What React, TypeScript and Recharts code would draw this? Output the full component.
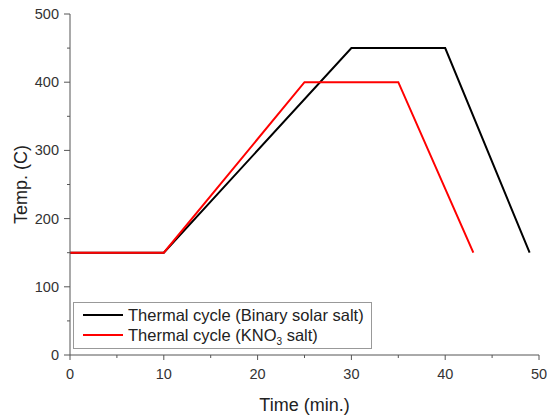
import { LineChart, Line, XAxis, YAxis } from 'recharts';

const binaryTime = [0, 10, 30, 40, 49];
const binaryTemp = [150, 150, 450, 450, 150];
const kno3Time = [0, 10, 25, 35, 43];
const kno3Temp = [150, 150, 400, 400, 150];

const xTicks = [0, 5, 10, 15, 20, 25, 30, 35, 40, 45, 50];
const yTicks = [0, 50, 100, 150, 200, 250, 300, 350, 400, 450, 500];

const binaryData = binaryTime.map((t, i) => ({ t, temp: binaryTemp[i] }));
const kno3Data = kno3Time.map((t, i) => ({ t, temp: kno3Temp[i] }));

const axisColor = '#555';
const font = 'Arial, "Liberation Sans", sans-serif';

const XTick = (props: any) => {
  const { x, y, payload } = props;
  const major = payload.value % 10 === 0;
  return (
    <g>
      <line x1={x} x2={x} y1={y} y2={y + (major ? 5 : 3)} stroke={axisColor} strokeWidth={1} />
      {major && (
        <text x={x} y={y + 24} textAnchor="middle" fontSize={14.5} fill="#333" fontFamily={font}>
          {payload.value}
        </text>
      )}
    </g>
  );
};

const YTick = (props: any) => {
  const { x, y, payload } = props;
  const major = payload.value % 100 === 0;
  return (
    <g>
      <line x1={x} x2={x - (major ? 6 : 3)} y1={y} y2={y} stroke={axisColor} strokeWidth={1} />
      {major && (
        <text x={x - 11} y={y + 5} textAnchor="end" fontSize={14.5} fill="#333" fontFamily={font}>
          {payload.value}
        </text>
      )}
    </g>
  );
};

const LegendBox = () => (
  <div
    style={{
      position: 'absolute',
      left: 73,
      top: 302,
      border: '1px solid #999',
      width: 299,
      height: 47,
      boxSizing: 'border-box',
      padding: '2px 0 0 9px',
      fontFamily: font,
      fontSize: 16.5,
      lineHeight: '20px',
      color: '#222',
      background: '#fff',
    }}
  >
    <div style={{ display: 'flex', alignItems: 'center', height: 20 }}>
      <span style={{ display: 'inline-block', width: 40, height: 2, background: '#000', marginRight: 5 }} />
      Thermal cycle (Binary solar salt)
    </div>
    <div style={{ display: 'flex', alignItems: 'center', height: 20 }}>
      <span style={{ display: 'inline-block', width: 40, height: 2, background: '#ff0000', marginRight: 5 }} />
      <span>
        Thermal cycle (KNO<sub style={{ fontSize: 10, lineHeight: 0 }}>3</sub> salt)
      </span>
    </div>
  </div>
);

const App = () => {
  return (
    <div style={{ position: 'absolute', left: 0, top: 0, width: 547, height: 416, background: '#fff' }}>
      <LineChart width={547} height={416} margin={{ top: 14, right: 8, left: 0, bottom: 0 }}>
        <XAxis
          type="number"
          dataKey="t"
          domain={[0, 50]}
          ticks={xTicks}
          interval={0}
          height={61}
          tickSize={0}
          tickMargin={0}
          tickLine={false}
          tick={<XTick />}
          axisLine={{ stroke: axisColor, strokeWidth: 1 }}
          label={{ value: 'Time (min.)', position: 'insideBottom', offset: 5, fontSize: 18, fill: '#222', fontFamily: font }}
          allowDuplicatedCategory={false}
        />
        <YAxis
          type="number"
          domain={[0, 500]}
          ticks={yTicks}
          interval={0}
          width={70}
          tickSize={0}
          tickMargin={0}
          tickLine={false}
          tick={<YTick />}
          axisLine={{ stroke: axisColor, strokeWidth: 1 }}
          label={{
            value: 'Temp. (C)',
            angle: -90,
            position: 'insideLeft',
            offset: 21,
            style: { textAnchor: 'middle' },
            fontSize: 18,
            fill: '#222',
            fontFamily: font,
          }}
        />
        <Line
          data={binaryData}
          dataKey="temp"
          stroke="#000"
          strokeWidth={2}
          dot={false}
          isAnimationActive={false}
          name="Thermal cycle (Binary solar salt)"
        />
        <Line
          data={kno3Data}
          dataKey="temp"
          stroke="#ff0000"
          strokeWidth={2}
          dot={false}
          isAnimationActive={false}
          name="Thermal cycle (KNO3 salt)"
        />
      </LineChart>
      <LegendBox />
    </div>
  );
};

export default App;
